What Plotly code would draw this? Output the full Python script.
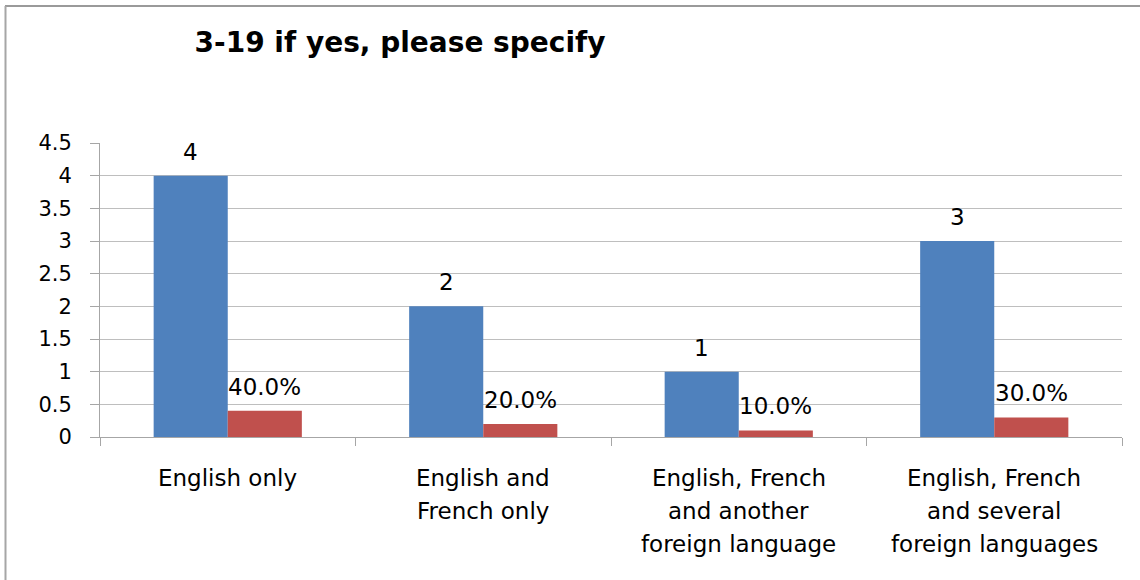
import plotly.graph_objects as go

# Survey question 3-19: languages specified
categories = [
    "English only",
    "English and<br>French only",
    "English, French<br>and another<br>foreign language",
    "English, French<br>and several<br>foreign languages",
]
counts = [4, 2, 1, 3]
shares = [0.4, 0.2, 0.1, 0.3]
count_labels = ["4", "2", "1", "3"]
share_labels = ["40.0%", "20.0%", "10.0%", "30.0%"]
y_ticks = [0, 0.5, 1, 1.5, 2, 2.5, 3, 3.5, 4, 4.5]
y_tick_text = ["0", "0.5", "1", "1.5", "2", "2.5", "3", "3.5", "4", "4.5"]

W, H = 1140, 580
M_L, M_R, M_T, M_B = 100, 18, 143, 143
PW, PH = W - M_L - M_R, H - M_T - M_B
BARGAP = 0.42
BAR_PX = PW / len(categories) * (1 - BARGAP) / 2

FONT = "DejaVu Sans"
BLUE = "#4F81BD"
RED = "#C0504D"


def px_x(px):
    return (px - M_L) / PW


def px_y(py):
    return (H - M_B - py) / PH


fig = go.Figure()
fig.add_trace(go.Bar(
    x=categories, y=counts, name="Count",
    marker=dict(color=BLUE, line=dict(width=0)),
))
fig.add_trace(go.Bar(
    x=categories, y=shares, name="Share",
    marker=dict(color=RED, line=dict(width=0)),
))

annotations = []
# value labels above each bar
for values, labels, side in ((counts, count_labels, -1), (shares, share_labels, 1)):
    for cat, v, lab in zip(categories, values, labels):
        annotations.append(dict(
            x=cat, y=v, xref="x", yref="y",
            text=lab, showarrow=False,
            xanchor="center", yanchor="middle",
            xshift=side * BAR_PX / 2, yshift=24,
            font=dict(family=FONT, size=23, color="#000000"),
        ))

# category labels, one annotation per line for wider line spacing
for cat in categories:
    for i, line in enumerate(cat.split("<br>")):
        annotations.append(dict(
            x=cat, y=0, xref="x", yref="paper",
            text=line, showarrow=False,
            xanchor="center", yanchor="middle",
            yshift=-(41 + 33 * i),
            font=dict(family=FONT, size=23, color="#000000"),
        ))

# chart frame: top and left edges
shapes = [
    dict(type="line", xref="paper", yref="paper",
         x0=px_x(5), x1=px_x(W + 5), y0=px_y(6), y1=px_y(6),
         line=dict(color="#9A9A9A", width=2)),
    dict(type="line", xref="paper", yref="paper",
         x0=px_x(5.5), x1=px_x(5.5), y0=px_y(6), y1=px_y(H + 5),
         line=dict(color="#A6A6A6", width=2)),
]

fig.update_layout(
    width=W, height=H,
    margin=dict(l=M_L, r=M_R, t=M_T, b=M_B),
    paper_bgcolor="white", plot_bgcolor="white",
    barmode="group", bargap=BARGAP, bargroupgap=0,
    showlegend=False,
    title=dict(
        text="<b>3-19 if yes, please specify</b>",
        x=400 / W, xref="container", xanchor="center",
        y=1 - 42 / H, yref="container", yanchor="middle",
        font=dict(family=FONT, size=28, color="#000000"),
    ),
    annotations=annotations,
    shapes=shapes,
)

fig.update_xaxes(
    showgrid=False, showticklabels=False,
    showline=True, linecolor="#A6A6A6", linewidth=1,
    ticks="outside", tickson="boundaries", ticklen=8, tickcolor="#A6A6A6",
    zeroline=False,
)
fig.update_yaxes(
    range=[0, 4.5], tickvals=y_ticks, ticktext=y_tick_text,
    showgrid=True, gridcolor="#BEBEBE", gridwidth=1,
    showline=True, linecolor="#A6A6A6", linewidth=1,
    ticks="outside", ticklen=9, tickcolor="#A6A6A6",
    ticklabelstandoff=14,
    tickfont=dict(family=FONT, size=21, color="#000000"),
    zeroline=False,
)

fig.write_html("out.html")
